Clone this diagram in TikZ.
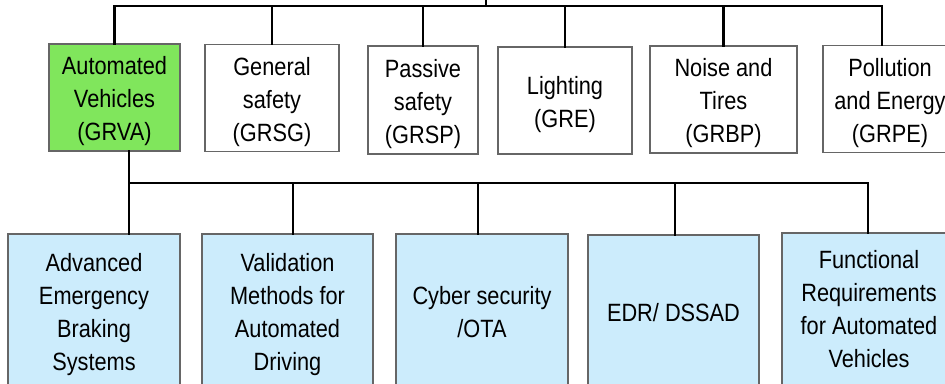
\documentclass[tikz,border=0pt]{standalone}
\usepackage{fontspec}
\setmainfont{Liberation Sans}[FakeStretch=0.87]
\usetikzlibrary{calc}
\definecolor{avgreen}{RGB}{128,230,92}
\definecolor{wpblue}{RGB}{204,236,252}
\newcommand{\wpstrut}{\rule{0pt}{26pt}}

\begin{document}
\begin{tikzpicture}[x=1pt,y=-1pt,line cap=rect,
  wp/.style={draw=black!60,line width=1.1pt,align=center,inner sep=0pt,
    font=\fontsize{25}{33}\selectfont},
  topwp/.style={wp,fill=white,minimum height=107},
  subwp/.style={wp,fill=wpblue,minimum height=156,minimum width=172},
  link/.style={line width=2.6pt}]
\clip (0,0) rectangle (945,383);
% working parties
\node[topwp,fill=avgreen,minimum width=131] (grva) at (114.5,97.5) {\wpstrut Automated\\Vehicles\\(GRVA)};
\node[topwp,minimum width=134] (grsg) at (272,98) {\wpstrut General\\safety\\(GRSG)};
\node[topwp,minimum width=110,minimum height=108] (grsp) at (423,100) {\wpstrut Passive\\safety\\(GRSP)};
\node[topwp,minimum width=134] (gre) at (565,100.5) {\wpstrut Lighting\\(GRE)};
\node[topwp,minimum width=147] (grbp) at (723.5,99.5) {\wpstrut Noise and\\Tires\\(GRBP)};
\node[topwp,minimum width=134] (grpe) at (890,99) {\wpstrut Pollution\\and Energy\\(GRPE)};
% subgroups of GRVA
\node[subwp,minimum height=162] (aebs) at (94,315) {Advanced\\Emergency\\Braking\\Systems};
\node[subwp,minimum width=171,minimum height=162] (vmad) at (287.5,315) {Validation\\Methods for\\Automated\\Driving};
\node[subwp] (cyber) at (482,312) {Cyber security\\/OTA};
\node[subwp,minimum width=171] (edr) at (673.5,313) {EDR/ DSSAD};
\node[subwp,minimum width=174,minimum height=152] (frav) at (869,309) {Functional\\Requirements\\for Automated\\Vehicles};
% upper bus
\coordinate (parent) at (486,-10);
\coordinate (busA) at (486,6);
\draw[link] (parent) -- (busA);
\draw[link] (grva.north) -- (grva.north |- busA) -| ([xshift=-8]grpe.north);
\foreach \n in {grsg,grsp,gre,grbp}
  \draw[link] (\n.north) -- (\n.north |- busA);
% lower bus
\coordinate (busB) at (129,183);
\draw[link] ([xshift=14.5]grva.south) -- (busB) -| ([xshift=-1]frav.north);
\foreach \n/\dx in {aebs/35,vmad/5.5,cyber/-4,edr/1.5}
  \draw[link] ([xshift=\dx]\n.north) -- ([xshift=\dx]\n.north |- busB);
\end{tikzpicture}
\end{document}
